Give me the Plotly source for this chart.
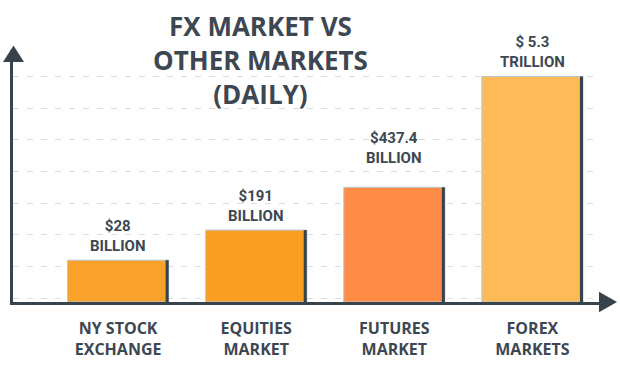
import plotly.graph_objects as go

# ---- data ----
categories = ["NY STOCK<br>EXCHANGE", "EQUITIES<br>MARKET", "FUTURES<br>MARKET", "FOREX<br>MARKETS"]
value_labels = ["$28<br>BILLION", "$191<br>BILLION", "$437.4<br>BILLION", "$ 5.3<br>TRILLION"]
bar_heights = [1.32, 2.27, 3.62, 7.12]  # visual heights as drawn (not to scale)
grid_levels = [0.123, 1.123, 2.123, 3.123, 4.123, 5.123, 6.123, 7.123]

# ---- styles ----
bar_colors = ["#F8A12B", "#F9A024", "#FF8C46", "#FDBA58"]
label_shift = [3, 3, 18, 3]
TEXT = "#3D4752"
DARK = "#37434D"
W, H = 620, 372
ML, MR, MT, MB = 13, 21, 62, 63
PW, PH = W - ML - MR, H - MT - MB

xpos = list(range(len(categories)))
bw = 0.732
edge = 0.022

def px(x):
    return (x - ML) / PW

def py(y):
    return (H - MB - y) / PH

fig = go.Figure()
fig.add_trace(go.Bar(
    x=xpos, y=bar_heights, width=bw, offset=-bw / 2,
    marker=dict(color=bar_colors, line=dict(color="#B9C6CE", width=1)),
    hoverinfo="skip",
))
fig.add_trace(go.Bar(
    x=xpos, y=bar_heights, width=edge, offset=bw / 2 - edge,
    marker=dict(color=DARK, line=dict(width=0)),
    hoverinfo="skip",
))

for i, (lab, h) in enumerate(zip(value_labels, bar_heights)):
    fig.add_annotation(
        x=xpos[i], y=h, xref="x", yref="y", text=lab, showarrow=False,
        yanchor="bottom", yshift=label_shift[i],
        font=dict(family="Roboto, sans-serif", size=15, color=TEXT, weight="bold"),
    )

fig.add_annotation(
    x=px(260), y=py(4), xref="paper", yref="paper", xanchor="center", yanchor="top",
    text="FX MARKET VS<br>OTHER MARKETS<br>(DAILY)", showarrow=False,
    font=dict(family="Open Sans, sans-serif", size=26, color=TEXT, weight="bold"),
)

# axis arrows
fig.add_shape(type="path", xref="paper", yref="paper",
              path=f"M {px(3)} {py(62)} L {px(13.5)} {py(45)} L {px(24)} {py(62)} Z",
              fillcolor=DARK, line=dict(width=0))
fig.add_shape(type="path", xref="paper", yref="paper",
              path=f"M {px(599)} {py(298.5)} L {px(617)} {py(309)} L {px(599)} {py(319.5)} Z",
              fillcolor=DARK, line=dict(width=0))

fig.update_layout(
    width=W, height=H,
    margin=dict(l=ML, r=MR, t=MT, b=MB),
    paper_bgcolor="white", plot_bgcolor="white",
    barmode="overlay", showlegend=False,
    xaxis=dict(range=[-0.761, 3.482], tickvals=xpos, ticktext=categories,
               showline=True, linecolor=DARK, linewidth=3, showgrid=False,
               zeroline=False, ticks="", ticklabelstandoff=10,
               tickfont=dict(family="Open Sans, sans-serif", size=16, color=TEXT, weight="bold")),
    yaxis=dict(range=[0, 7.577], tickvals=grid_levels, showticklabels=False,
               showline=True, linecolor=DARK, linewidth=3, showgrid=True,
               gridcolor="#D8DDE1", gridwidth=1, griddash="6px,8px",
               zeroline=False, ticks=""),
)

fig.write_html("out.html", config={"displayModeBar": False},
               post_script="document.body.style.margin='0';")
